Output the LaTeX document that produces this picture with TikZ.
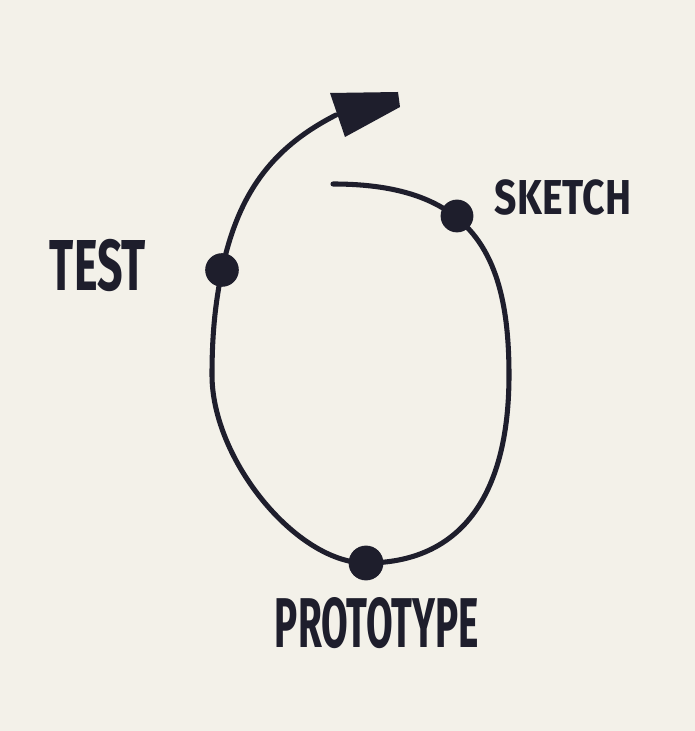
\documentclass[tikz,border=0pt]{standalone}
\usepackage{fontspec}
\setmainfont{Fira Sans}
\usepackage{tikz}

\definecolor{paper}{RGB}{243,241,233}
\definecolor{marker}{RGB}{30,30,44}
% Handgeschriebene Beschriftung: auf feste Breite/Höhe gestreckt
\newcommand{\markertext}[3]{\resizebox{#1}{#2}{\bfseries #3}}

\begin{document}
\begin{tikzpicture}[x=0.025cm, y=0.025cm, >=latex,
    stage/.style={circle, fill=marker, inner sep=0pt, minimum size=0.82cm},
    lbl/.style={inner sep=0pt, text=marker},
    stroke/.style={line width=3.6pt, draw=marker, line cap=round}]

    % --- Papier ---
    \fill[paper] (0,0) rectangle (695,731);

    % --- Stationen ---
    \node[stage] (sketch) at (457,515) {};
    \node[stage, minimum size=0.87cm] (proto) at (366,168) {};
    \node[stage, minimum size=0.84cm] (test) at (222,461) {};

    \coordinate (start) at (333,547);
    \coordinate (right) at (509,356);
    \coordinate (left) at (212,356);
    \coordinate (tip) at (336,616);

    % --- Kreislauf ---
    \draw[stroke] (start) .. controls (473,547) and (509,476) .. (right)
      .. controls (509,233) and (459,168) .. (proto.center)
      .. controls (297,168) and (212,271) .. (left)
      .. controls (212,401) and (216,431) .. (test.center)
      to[out=78, in=207] (tip);

    % Pfeilspitze
    \fill[marker] (330,638) -- (398,639) -- (400,624) -- (345,594) -- cycle;

    % --- Beschriftungen ---
    \node[lbl] (testlbl) at (98,465) {\markertext{2.4cm}{1.28cm}{TEST}};
    \node[lbl] (sketchlbl) at (563,533) {\markertext{3.4cm}{0.87cm}{SKETCH}};
    \node[lbl] (protolbl) at (377,108) {\markertext{5.1cm}{1.25cm}{PROTOTYPE}};
\end{tikzpicture}
\end{document}
